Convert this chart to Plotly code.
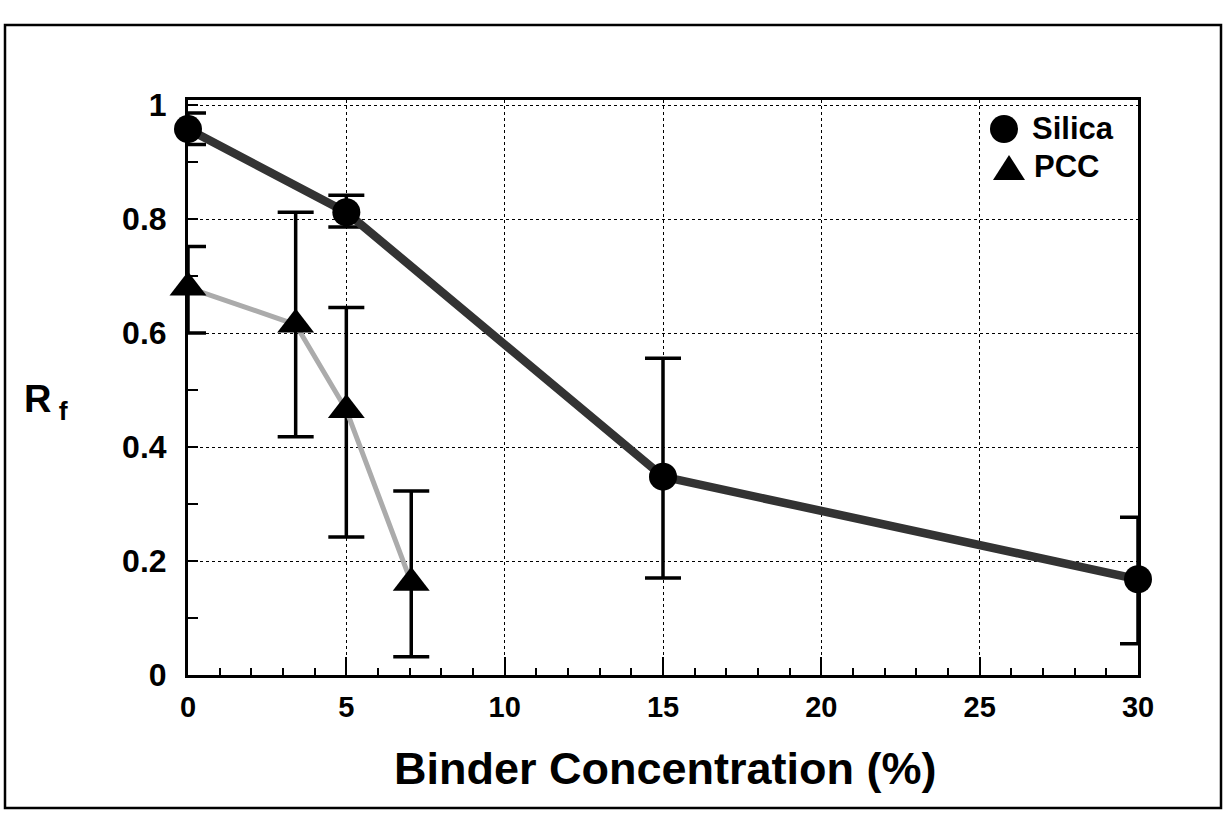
import plotly.graph_objects as go

# ---- data ----
silica_x = [0, 5, 15, 30]
silica_y = [0.958, 0.812, 0.348, 0.168]
silica_hi = [0.986, 0.842, 0.556, 0.277]
silica_lo = [0.931, 0.786, 0.170, 0.055]

pcc_x = [0, 3.4, 5, 7.05]
pcc_y = [0.680, 0.615, 0.465, 0.162]
pcc_hi = [0.752, 0.812, 0.645, 0.323]
pcc_lo = [0.600, 0.418, 0.242, 0.032]

x_ticks = [0, 5, 10, 15, 20, 25, 30]
x_ticktext = ["0", "5", "10", "15", "20", "25", "30"]
y_ticks = [0, 0.2, 0.4, 0.6, 0.8, 1.0]
y_ticktext = ["0", "0.2", "0.4", "0.6", "0.8", "1"]

FONT = "Liberation Sans, Arial, Helvetica, sans-serif"

def plus(v, hi):
    return [h - a for a, h in zip(v, hi)]

def minus(v, lo):
    return [a - l for a, l in zip(v, lo)]

fig = go.Figure()

fig.add_trace(go.Scatter(
    x=pcc_x, y=pcc_y, mode="lines+markers", name="PCC",
    line=dict(color="#ababab", width=5),
    marker=dict(symbol="triangle-up", size=32, color="black"),
    error_y=dict(type="data", array=plus(pcc_y, pcc_hi),
                 arrayminus=minus(pcc_y, pcc_lo),
                 color="black", thickness=3.5, width=18),
    cliponaxis=False, showlegend=False,
))

fig.add_trace(go.Scatter(
    x=silica_x, y=silica_y, mode="lines+markers", name="Silica",
    line=dict(color="#333333", width=8.5),
    marker=dict(symbol="circle", size=28, color="black"),
    error_y=dict(type="data", array=plus(silica_y, silica_hi),
                 arrayminus=minus(silica_y, silica_lo),
                 color="black", thickness=3.5, width=18),
    cliponaxis=False, showlegend=False,
))

L, R, T, B = 188, 87, 100, 150
W, H = 1225, 825
pw, ph = W - L - R, H - T - B

def px(xp):
    return (xp - L) / pw

def py(yp):
    return (H - B - yp) / ph

fig.update_layout(
    width=W, height=H,
    margin=dict(l=L, r=R, t=T, b=B),
    paper_bgcolor="white", plot_bgcolor="white",
    font=dict(family=FONT, color="black"),
    xaxis=dict(
        range=[0, 30], tickvals=x_ticks, ticktext=x_ticktext,
        showline=True, linecolor="black", linewidth=3, mirror=True,
        ticks="inside", ticklen=18, tickwidth=2, tickcolor="black",
        minor=dict(dtick=1, ticks="inside", ticklen=7, tickwidth=1.5,
                   tickcolor="black", showgrid=False),
        showgrid=True, gridcolor="black", gridwidth=1.2, griddash="dot",
        zeroline=False,
        tickfont=dict(family=FONT, size=29, weight="bold"),
        ticklabelstandoff=4,
    ),
    yaxis=dict(
        range=[0, 1.009], tickvals=y_ticks, ticktext=y_ticktext,
        showline=True, linecolor="black", linewidth=3, mirror=True,
        ticks="inside", ticklen=10, tickwidth=1.5, tickcolor="black",
        minor=dict(dtick=0.1, ticks="inside", ticklen=10, tickwidth=1.5,
                   tickcolor="black", showgrid=False),
        showgrid=True, gridcolor="black", gridwidth=1.2, griddash="dot",
        zeroline=False,
        tickfont=dict(family=FONT, size=32, weight="bold"),
        ticklabelstandoff=12,
    ),
)

# outer frame
fig.add_shape(type="rect", xref="paper", yref="paper",
              x0=px(5), x1=px(1221), y0=py(808), y1=py(25),
              line=dict(color="black", width=2.5), layer="below")

# axis titles
fig.add_annotation(xref="paper", yref="paper", x=px(665), y=py(768),
                   text="<b>Binder Concentration (%)</b>", showarrow=False,
                   font=dict(family=FONT, size=45), xanchor="center", yanchor="middle")
fig.add_annotation(xref="paper", yref="paper", x=px(22), y=py(402),
                   text="<b>R<sub> f</sub></b>", showarrow=False,
                   font=dict(family=FONT, size=38), xanchor="left", yanchor="middle")

# legend symbols (shapes) and labels
fig.add_shape(type="circle", xref="paper", yref="paper",
              x0=px(990), x1=px(1018), y0=py(143), y1=py(115),
              fillcolor="black", line=dict(color="black", width=0))
fig.add_shape(type="path", xref="paper", yref="paper",
              path=f"M {px(993)} {py(180)} L {px(1025)} {py(180)} L {px(1009)} {py(155)} Z",
              fillcolor="black", line=dict(color="black", width=0))
fig.add_annotation(xref="paper", yref="paper", x=px(1030), y=py(129),
                   text="<b>Silica</b>", showarrow=False,
                   font=dict(family=FONT, size=31), xanchor="left", yanchor="middle")
fig.add_annotation(xref="paper", yref="paper", x=px(1032), y=py(166),
                   text="<b>PCC</b>", showarrow=False,
                   font=dict(family=FONT, size=31), xanchor="left", yanchor="middle")

fig.write_html("out.html", config={"displayModeBar": False},
               post_script="document.body.style.margin='0px';")
